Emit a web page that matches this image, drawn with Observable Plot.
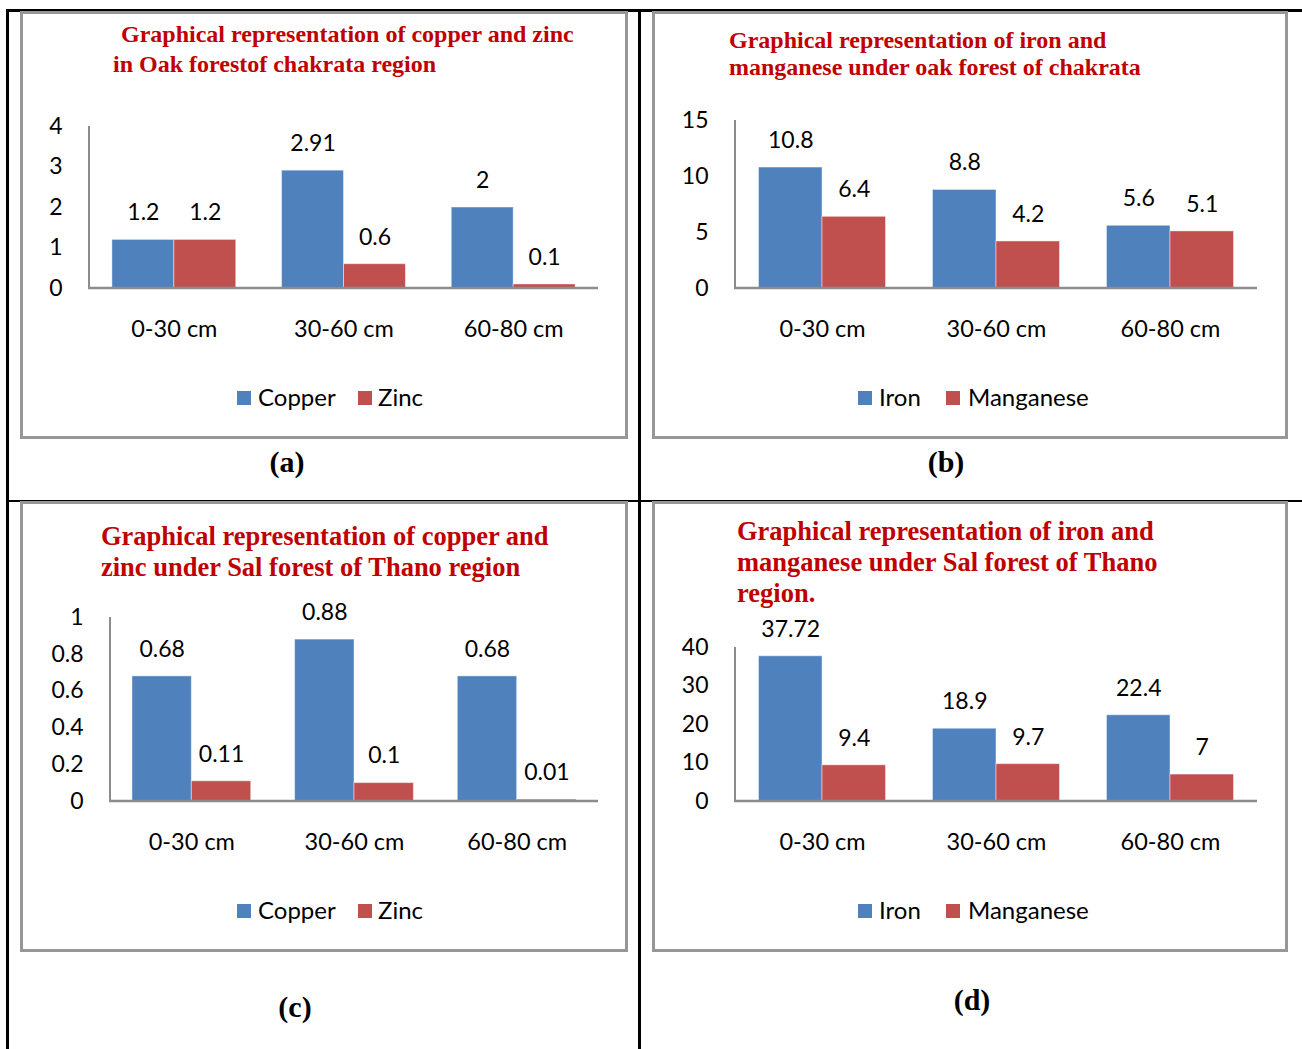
<!DOCTYPE html>
<html><head><meta charset="utf-8">
<script src="https://cdn.jsdelivr.net/npm/d3@7"></script>
<script src="https://cdn.jsdelivr.net/npm/@observablehq/plot@0.6"></script>
<style>
body{margin:0;background:#fff;}
#root{position:relative;width:1302px;height:1049px;overflow:hidden;font-family:Lato,sans-serif;background:#fff;}
.tline{position:absolute;background:#000;}
.box{position:absolute;box-sizing:border-box;border:3px solid #979797;}
.title{position:absolute;font-family:"Liberation Serif","Times New Roman",serif;font-weight:bold;color:#c00000;white-space:nowrap;line-height:1;}
.sub{position:absolute;font-family:"Liberation Serif","Times New Roman",serif;font-weight:bold;font-size:30px;line-height:1;transform:translate(-50%,-50%);white-space:nowrap;}
.legtxt{position:absolute;font-family:Lato,sans-serif;font-size:24px;line-height:1;color:#000;white-space:nowrap;}
.sw{position:absolute;width:14px;height:14px;}
svg{position:absolute;}
</style></head><body><div id="root"></div>
<script>
// ---- data ----
const depths = ["0-30 cm", "30-60 cm", "60-80 cm"];
const copperOak = [1.2, 2.91, 2];
const zincOak = [1.2, 0.6, 0.1];
const ironOak = [10.8, 8.8, 5.6];
const manganeseOak = [6.4, 4.2, 5.1];
const copperSal = [0.68, 0.88, 0.68];
const zincSal = [0.11, 0.1, 0.01];
const ironSal = [37.72, 18.9, 22.4];
const manganeseSal = [9.4, 9.7, 7];
const ticksA = [0, 1, 2, 3, 4];
const ticksB = [0, 5, 10, 15];
const ticksC = [0, 0.2, 0.4, 0.6, 0.8, 1];
const ticksD = [0, 10, 20, 30, 40];
const namesCuZn = ["Copper", "Zinc"];
const namesFeMn = ["Iron", "Manganese"];
const colors = ["#4F81BD", "#C0504D"];

const root = document.getElementById("root");

function el(tag, cls, style, text) {
  const e = document.createElement(tag);
  if (cls) e.className = cls;
  Object.assign(e.style, style || {});
  if (text != null) e.textContent = text;
  root.appendChild(e);
  return e;
}

// table lines
el("div", "tline", {left: "6px", top: "9px", width: "3px", height: "1040px"});
el("div", "tline", {left: "6px", top: "9px", width: "1296px", height: "3px"});
el("div", "tline", {left: "638px", top: "9px", width: "3px", height: "1040px"});
el("div", "tline", {left: "6px", top: "500px", width: "1296px", height: "2px"});

const panels = [
  {
    box: {x: 20, y: 11, w: 608, h: 428},
    frame: {l: 89, r: 598, t: 126, b: 288},
    domain: [0, 4], ticks: ticksA, names: namesCuZn, s1: copperOak, s2: zincOak,
    titleSize: 24,
    title: [["Graphical representation of copper and zinc", 121, 34], ["in Oak forestof chakrata region", 113, 64]],
    legend: {y: 398, items: [[237, 258], [358, 378]]},
    sub: ["(a)", 287, 462]
  },
  {
    box: {x: 652, y: 11, w: 636, h: 428},
    frame: {l: 735, r: 1257, t: 120, b: 288},
    domain: [0, 15], ticks: ticksB, names: namesFeMn, s1: ironOak, s2: manganeseOak,
    titleSize: 24,
    title: [["Graphical representation of iron and", 729, 40], ["manganese under oak forest of chakrata", 729, 67]],
    legend: {y: 398, items: [[858, 879], [946, 968]]},
    sub: ["(b)", 946, 462]
  },
  {
    box: {x: 20, y: 501, w: 608, h: 451},
    frame: {l: 110, r: 598, t: 617, b: 801},
    domain: [0, 1], ticks: ticksC, names: namesCuZn, s1: copperSal, s2: zincSal,
    titleSize: 26.5,
    title: [["Graphical representation of copper and", 101, 536], ["zinc under Sal forest of Thano region", 101, 567]],
    legend: {y: 911, items: [[237, 258], [358, 378]]},
    sub: ["(c)", 295, 1007]
  },
  {
    box: {x: 652, y: 501, w: 636, h: 451},
    frame: {l: 735, r: 1257, t: 647, b: 801},
    domain: [0, 40], ticks: ticksD, names: namesFeMn, s1: ironSal, s2: manganeseSal,
    titleSize: 26.5,
    title: [["Graphical representation of iron and", 737, 531], ["manganese under Sal forest of Thano", 737, 562], ["region.", 737, 593]],
    legend: {y: 911, items: [[858, 879], [946, 968]]},
    sub: ["(d)", 972, 1000]
  }
];

const pi = 0.27, po = 0.135;

panels.forEach(cfg => {
  el("div", "box", {left: cfg.box.x + "px", top: cfg.box.y + "px", width: cfg.box.w + "px", height: cfg.box.h + "px"});

  const data = [];
  depths.forEach((d, i) => {
    data.push({depth: d, series: cfg.names[0], value: cfg.s1[i]});
    data.push({depth: d, series: cfg.names[1], value: cfg.s2[i]});
  });

  const W = cfg.box.w, H = cfg.box.h;
  const mL = cfg.frame.l - cfg.box.x;
  const mR = cfg.box.x + W - cfg.frame.r;
  const mT = cfg.frame.t - cfg.box.y;
  const mB = cfg.box.y + H - cfg.frame.b;
  const innerW = cfg.frame.r - cfg.frame.l;
  const outerPad = po * innerW / (depths.length - pi + 2 * po);

  const p = Plot.plot({
    width: W, height: H,
    marginLeft: mL, marginRight: mR, marginTop: mT, marginBottom: mB,
    style: {background: "transparent", fontFamily: "Lato, sans-serif", fontSize: "23px", color: "#000", overflow: "visible"},
    fx: {domain: depths, paddingInner: pi, paddingOuter: po, round: false, label: null},
    x: {domain: cfg.names, axis: null, padding: 0, round: false},
    y: {domain: cfg.domain, axis: null},
    color: {domain: cfg.names, range: colors},
    marks: [
      Plot.axisY({ticks: cfg.ticks, tickSize: 0, tickPadding: 27 + outerPad, tickFormat: d => String(d), label: null, fontSize: 23}),
      Plot.axisFx({anchor: "bottom", tickSize: 0, tickPadding: 32, label: null, fontSize: 23.5}),
      Plot.barY(data, {fx: "depth", x: "series", y: "value", fill: "series", stroke: "#ffffff", strokeOpacity: 0.45, strokeWidth: 1}),
      Plot.text(data, {fx: "depth", x: "series", y: "value", text: d => String(d.value), dy: -27, lineAnchor: "middle", fontSize: 23, fill: "#000"})
    ]
  });
  p.style.left = cfg.box.x + "px";
  p.style.top = cfg.box.y + "px";
  root.appendChild(p);

  // axis lines drawn through the plot's own scales
  const ys = p.scale("y"), fxs = p.scale("fx");
  const y0 = ys.apply(0), yTop = ys.apply(cfg.domain[1]);
  const svg = d3.select(p);
  svg.append("line").attr("x1", fxs.range[0]).attr("x2", fxs.range[0]).attr("y1", yTop).attr("y2", y0)
    .attr("stroke", "#8c8c8c").attr("stroke-width", 2);
  svg.append("line").attr("x1", fxs.range[0] - 1).attr("x2", fxs.range[1]).attr("y1", y0).attr("y2", y0)
    .attr("stroke", "#8c8c8c").attr("stroke-width", 2.5);

  // titles
  cfg.title.forEach(([t, x, y]) => {
    el("div", "title", {left: x + "px", top: (y - cfg.titleSize / 2) + "px", fontSize: cfg.titleSize + "px"}, t);
  });

  // legend
  cfg.names.forEach((n, i) => {
    const [sx, tx] = cfg.legend.items[i];
    el("div", "sw", {left: sx + "px", top: (cfg.legend.y - 7) + "px", background: colors[i]});
    el("div", "legtxt", {left: tx + "px", top: (cfg.legend.y - 13) + "px"}, n);
  });

  // sub label
  el("div", "sub", {left: cfg.sub[1] + "px", top: cfg.sub[2] + "px"}, cfg.sub[0]);
});
</script>
</body></html>
